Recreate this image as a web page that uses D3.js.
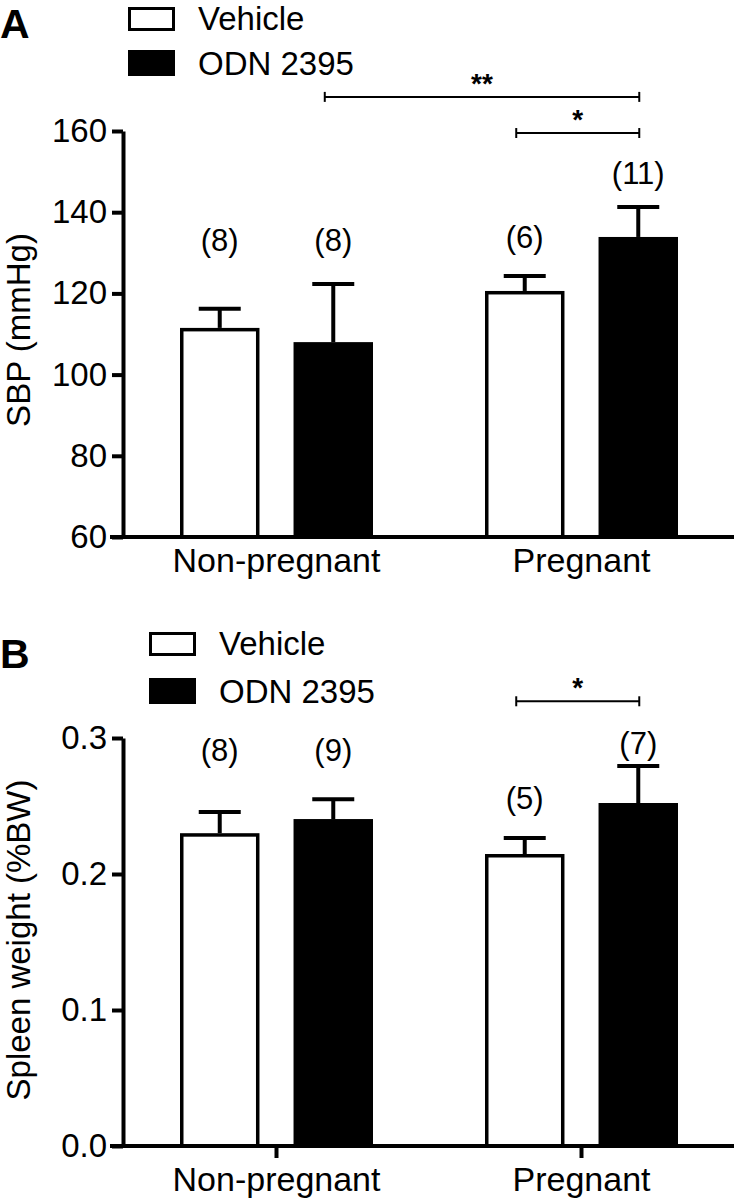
<!DOCTYPE html>
<html>
<head>
<meta charset="utf-8">
<script src="https://cdn.jsdelivr.net/npm/d3@7"></script>
<style>
  html, body { margin: 0; padding: 0; background: #fff; }
  svg { display: block; font-family: "Liberation Sans", Arial, Helvetica, sans-serif; }
</style>
</head>
<body>
<svg id="chart" width="734" height="1199"></svg>
<script>
// ---------- data ----------
const groups = ["Non-pregnant", "Pregnant"];
const series = ["Vehicle", "ODN 2395"];

// Panel A: systolic blood pressure (mmHg)
const sbpVehicle = [111.5, 120.6];
const sbpVehicleSem = [4.7, 3.7];
const sbpOdn = [108.0, 133.9];
const sbpOdnSem = [14.3, 7.4];
const sbpVehicleN = [8, 6];
const sbpOdnN = [8, 11];
const sbpTicks = [60, 80, 100, 120, 140, 160];
const sbpTickLabels = ["60", "80", "100", "120", "140", "160"];

// Panel B: spleen weight (%BW)
const spleenVehicle = [0.230, 0.2147];
const spleenVehicleSem = [0.0156, 0.0118];
const spleenOdn = [0.2404, 0.2522];
const spleenOdnSem = [0.0146, 0.0272];
const spleenVehicleN = [8, 5];
const spleenOdnN = [9, 7];
const spleenTicks = [0, 0.1, 0.2, 0.3];
const spleenTickLabels = ["0.0", "0.1", "0.2", "0.3"];

// significance brackets: [fromGroup, fromSeries, toGroup, toSeries, level, stars]
const sbpSig = [[0, 1, 1, 1, 168.4, "**"], [1, 0, 1, 1, 159.5, "*"]];
const spleenSig = [[1, 0, 1, 1, 0.327, "*"]];

// ---------- layout ----------
const svg = d3.select("#chart");
const axisX = 123;

const panels = [
  {
    letter: "A", letterY: 38,
    yDomain: [60, 160], yRange: [537, 131],
    ticks: sbpTicks, tickLabels: sbpTickLabels,
    title: "SBP (mmHg)", titleCenter: 330,
    values: [sbpVehicle, sbpOdn], sems: [sbpVehicleSem, sbpOdnSem], ns: [sbpVehicleN, sbpOdnN],
    nLift: [[58, 28], [33, 23]],
    sig: sbpSig,
    xTicks: 0, xPad: 11,
    legendX: 128, legendY: [7, 50], legendText: [30, 75]
  },
  {
    letter: "B", letterY: 668,
    yDomain: [0, 0.3], yRange: [1146, 738],
    ticks: spleenTicks, tickLabels: spleenTickLabels,
    title: "Spleen weight (%BW)", titleCenter: 940,
    values: [spleenVehicle, spleenOdn], sems: [spleenVehicleSem, spleenOdnSem], ns: [spleenVehicleN, spleenOdnN],
    nLift: [[51, 29], [38, 12]],
    sig: spleenSig,
    xTicks: 12, xPad: 9,
    legendX: 149, legendY: [632, 678], legendText: [655, 703]
  }
];

const x0 = d3.scaleBand().domain(groups).range([124, 734]).paddingInner(0).paddingOuter(0);
const x1 = d3.scaleBand().domain(series).range([56, 249]).paddingInner(0.3).paddingOuter(0);
const bw = x1.bandwidth();

panels.forEach(p => {
  const g = svg.append("g");
  const y = d3.scaleLinear().domain(p.yDomain).range(p.yRange);
  const base = p.yRange[0];

  // panel letter
  g.append("text").attr("x", 0).attr("y", p.letterY)
    .attr("font-size", 41).attr("font-weight", "bold").text(p.letter);

  // legend
  g.append("rect").attr("x", p.legendX + 1.5).attr("y", p.legendY[0] + 1.5)
    .attr("width", 44).attr("height", 21)
    .attr("fill", "#fff").attr("stroke", "#000").attr("stroke-width", 3);
  g.append("rect").attr("x", p.legendX).attr("y", p.legendY[1])
    .attr("width", 47).attr("height", 26).attr("fill", "#000");
  series.forEach((s, i) => {
    g.append("text").attr("x", p.legendX + 70).attr("y", p.legendText[i])
      .attr("font-size", 33).text(s);
  });

  // bars
  series.forEach((s, si) => {
    groups.forEach((grp, gi) => {
      const v = p.values[si][gi];
      const bx = x0(grp) + x1(s);
      const top = y(v);
      if (si === 0) {
        g.append("rect").attr("x", bx + 1.75).attr("y", top + 1.75)
          .attr("width", bw - 3.5).attr("height", base - top - 1.75)
          .attr("fill", "#fff").attr("stroke", "#000").attr("stroke-width", 3.5);
      } else {
        g.append("rect").attr("x", bx).attr("y", top)
          .attr("width", bw).attr("height", base - top).attr("fill", "#000");
      }
      const cx = bx + bw / 2;
      const capY = y(v + p.sems[si][gi]);
      g.append("line").attr("x1", cx).attr("x2", cx).attr("y1", top).attr("y2", capY)
        .attr("stroke", "#000").attr("stroke-width", 4);
      g.append("line").attr("x1", cx - 21).attr("x2", cx + 21).attr("y1", capY).attr("y2", capY)
        .attr("stroke", "#000").attr("stroke-width", 4);
      g.append("text").attr("x", cx).attr("y", capY - p.nLift[si][gi])
        .attr("text-anchor", "middle").attr("font-size", 31)
        .text("(" + p.ns[si][gi] + ")");
    });
  });

  // y axis
  const yAxis = d3.axisLeft(y).tickValues(p.ticks)
    .tickFormat((d, i) => p.tickLabels[i]).tickSize(11).tickSizeOuter(0).tickPadding(5);
  const ya = g.append("g").attr("transform", `translate(${axisX},0)`).call(yAxis);
  ya.select(".domain").attr("stroke-width", 4);
  ya.selectAll(".tick line").attr("stroke-width", 4);
  ya.selectAll(".tick text").attr("font-size", 33).attr("font-family", "Liberation Sans, Arial, sans-serif");

  // x axis
  const xAxis = d3.axisBottom(x0).tickSize(p.xTicks).tickSizeOuter(0).tickPadding(p.xPad);
  const xa = g.append("g").attr("transform", `translate(0,${base})`).call(xAxis);
  xa.select(".domain").remove();
  xa.selectAll(".tick line").attr("stroke-width", 4);
  xa.selectAll(".tick text").attr("font-size", 34).attr("font-family", "Liberation Sans, Arial, sans-serif");
  g.append("line").attr("x1", 110).attr("x2", 734).attr("y1", base).attr("y2", base)
    .attr("stroke", "#000").attr("stroke-width", 4);

  // y title
  g.append("text")
    .attr("transform", `translate(30,${p.titleCenter}) rotate(-90)`)
    .attr("text-anchor", "middle").attr("font-size", 33).text(p.title);

  // significance brackets
  p.sig.forEach(b => {
    const xa1 = x0(groups[b[0]]) + x1(series[b[1]]) + bw / 2 - 8.5;
    const xa2 = x0(groups[b[2]]) + x1(series[b[3]]) + bw / 2 + 1;
    const ly = y(b[4]);
    g.append("line").attr("x1", xa1).attr("x2", xa2).attr("y1", ly).attr("y2", ly)
      .attr("stroke", "#000").attr("stroke-width", 2);
    [xa1, xa2].forEach(xx => {
      g.append("line").attr("x1", xx).attr("x2", xx).attr("y1", ly - 5).attr("y2", ly + 5)
        .attr("stroke", "#000").attr("stroke-width", 2);
    });
    g.append("text").attr("x", (xa1 + xa2) / 2).attr("y", ly - 4)
      .attr("text-anchor", "middle").attr("font-size", 28).attr("font-weight", "bold")
      .text(b[5]);
  });
});
</script>
</body>
</html>
